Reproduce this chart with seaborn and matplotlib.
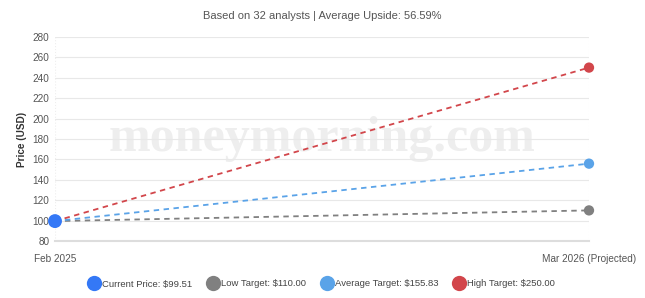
import matplotlib
matplotlib.use("Agg")
import matplotlib.pyplot as plt
import seaborn as sns
import pandas as pd
from matplotlib.lines import Line2D

# ---- data ----
x_labels = ["Feb 2025", "Mar 2026 (Projected)"]
current_price = 99.51
target_names = ["Low Target", "Average Target", "High Target"]
target_values = [110.00, 155.83, 250.00]
target_colors = ["#808080", "#5aa3e8", "#d2464b"]
current_color = "#3478f6"
title = "Based on 32 analysts | Average Upside: 56.59%"

sns.set_theme(style="white")
plt.rcParams["font.family"] = ["Liberation Sans", "DejaVu Sans"]

fig = plt.figure(figsize=(6.45, 2.98), dpi=100)
ax = fig.add_axes([55/645, 1-241/298, (589-55)/645, (241-37)/298])

# watermark
ax.text(0.5, 0.5, "moneymorning.com", transform=ax.transAxes, ha="center", va="center",
        fontsize=36, fontweight="bold", family=["Liberation Serif", "DejaVu Serif"],
        color="#eeeeee", zorder=0)

rows = []
for name, val in zip(target_names, target_values):
    rows.append({"x": 0, "y": current_price, "series": name})
    rows.append({"x": 1, "y": val, "series": name})
df = pd.DataFrame(rows)

pal = dict(zip(target_names, target_colors))
for name in target_names:
    sub = df[df.series == name]
    sns.lineplot(data=sub, x="x", y="y", color=pal[name], ax=ax, linewidth=1.3,
                 dashes=False, linestyle=(0, (3, 2.5)), zorder=3)

end_df = pd.DataFrame({"x": [1]*3, "y": target_values, "series": target_names})
sns.scatterplot(data=end_df, x="x", y="y", hue="series", palette=pal, s=55,
                edgecolor="none", ax=ax, legend=False, zorder=4, clip_on=False)
cur_df = pd.DataFrame({"x": [0], "y": [current_price]})
sns.scatterplot(data=cur_df, x="x", y="y", color=current_color, s=100,
                edgecolor="none", ax=ax, legend=False, zorder=5, clip_on=False)

ax.set_xlim(0, 1)
ax.set_ylim(80, 280)
ax.set_yticks(range(80, 281, 20))
ax.set_xticks([0, 1])
ax.set_xticklabels(x_labels)
ax.tick_params(axis="both", labelsize=7.2, colors="#555555", length=0, pad=4)
ax.tick_params(axis="x", pad=9)
ax.set_xlabel("")
ax.set_ylabel("Price (USD)", fontsize=7.2, color="#333333", fontweight="bold", labelpad=4)
ax.yaxis.grid(True, color="#e8e8e8", linewidth=0.8)
ax.xaxis.grid(True, color="#eeeeee", linewidth=0.8, linestyle=":")
for s in ["top", "right", "left"]:
    ax.spines[s].set_visible(False)
ax.spines["bottom"].set_color("#dddddd")
ax.spines["bottom"].set_linewidth(1.5)

fig.text(0.5, 1-16/298, title, ha="center", va="center", fontsize=8, color="#555555")

handles = [Line2D([], [], marker="o", linestyle="none", markersize=11,
                  markerfacecolor=current_color, markeredgecolor="none")]
labels = [f"Current Price: ${current_price:.2f}"]
for name, val, c in zip(target_names, target_values, target_colors):
    handles.append(Line2D([], [], marker="o", linestyle="none", markersize=11,
                          markerfacecolor=c, markeredgecolor="none"))
    labels.append(f"{name}: ${val:.2f}")
fig.legend(handles, labels, loc="center", bbox_to_anchor=(0.498, 1-284/298), ncol=4,
           frameon=False, fontsize=6.8, handlelength=1.5, handletextpad=0.1,
           columnspacing=1.45, labelcolor="#444444")

fig.savefig("out.png", dpi=100)
